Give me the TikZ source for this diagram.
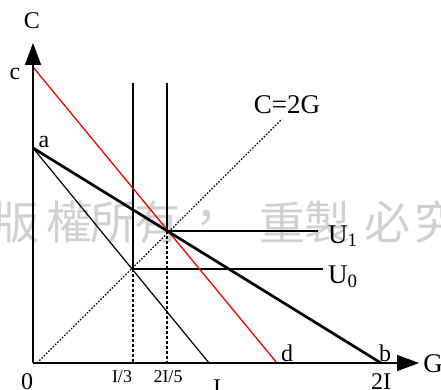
\documentclass[tikz,border=0pt]{standalone}
\usepackage{fontspec}
\setmainfont{Liberation Serif}
\newfontfamily\cjk{Noto Sans CJK TC}
\usetikzlibrary{arrows.meta}
\definecolor{wmgray}{RGB}{208,208,208}
\definecolor{redline}{RGB}{235,0,0}
\tikzset{
  axis/.style={line width=1.6pt,-{Triangle[length=22pt,width=16pt]}},
  thinline/.style={line width=1.2pt},
  thickline/.style={line width=2.7pt},
  redbudget/.style={line width=1.3pt,draw=redline},
  dotline/.style={line width=1.2pt,dash pattern=on 1.6pt off 1.6pt},
  dashline/.style={line width=1.2pt,dash pattern=on 3pt off 2pt},
  lab/.style={inner sep=0pt,anchor=base,font=\fontsize{24}{24}\selectfont},
  biglab/.style={inner sep=0pt,anchor=base,font=\fontsize{27}{27}\selectfont},
  smalllab/.style={inner sep=0pt,anchor=base,font=\fontsize{18}{18}\selectfont},
  wm/.style={inner sep=0pt,text=wmgray,font=\cjk\fontsize{46}{46}\selectfont}
}
\begin{document}
\begin{tikzpicture}[x=1pt,y=-1pt]
\useasboundingbox (0,0) rectangle (441,390);
% watermark
\node[wm] (w1) at (17,222) {版};
\node[wm] (w2) at (69,222) {權};
\node[wm] (w3) at (113,222) {所};
\node[wm] (w4) at (157,222) {有};
\node[wm] (w5) at (206,222) {，};
\node[wm] (w6) at (282,222) {重};
\node[wm] (w7) at (327,222) {製};
\node[wm] (w8) at (387,222) {必};
\node[wm] (w9) at (437,222) {究};
% coordinates
\coordinate (O) at (33,363);
\coordinate (ytip) at (33,43);
\coordinate (xtip) at (419,363);
\coordinate (a) at (33,148);
\coordinate (b) at (381,363);
\coordinate (c) at (33,67);
\coordinate (d) at (277,363);
\coordinate (I) at (209,363);
\coordinate (P1) at (167,231);
\coordinate (P0) at (133,269);
\coordinate (top0) at (133,83);
\coordinate (top1) at (167,83);
\coordinate (foot0) at (133,363);
\coordinate (foot1) at (167,363);
\coordinate (U1end) at (318,231);
\coordinate (U0end) at (323,269);
\coordinate (dstart) at (37,363);
\coordinate (dend) at (282,119);
% dotted C=2G
\draw[dotline] (dstart) -- (dend);
% verticals
\draw[thinline] (top0) -- (P0);
\draw[thinline] (top1) -- (P1);
\draw[dashline] (P0) -- (foot0);
\draw[dashline] (P1) -- (foot1);
% indifference horizontals
\draw[thinline] (P1) -- (U1end);
\draw[thinline] (P0) -- (U0end);
% budget lines
\draw[thinline] (a) -- (I);
\draw[redbudget] (c) -- (d);
\draw[thickline] (a) -- (b);
% axes
\draw[axis] (O) -- (ytip);
\draw[axis] (O) -- (xtip);
% labels
\node[lab] (lC) at (32,29) {C};
\node[lab] (lc) at (15,80) {c};
\node[lab] (la) at (44,148) {a};
\node[lab] (ld) at (287,361) {d};
\node[lab] (lb) at (385,361) {b};
\node[biglab] (lG) at (433,372) {G};
\node[biglab] (lC2G) at (287,114) {C=2G};
\node[biglab,anchor=base west] (lU1) at (328,243) {U\textsubscript{1}};
\node[biglab,anchor=base west] (lU0) at (328,283) {U\textsubscript{0}};
\node[smalllab] (l13) at (122,382) {I/3};
\node[smalllab] (l25) at (168,382) {2I/5};
\node[lab] (l0) at (27,389) {0};
\node[lab] (lI) at (217,395) {I};
\node[lab] (l2I) at (381,389) {2I};
\end{tikzpicture}
\end{document}
